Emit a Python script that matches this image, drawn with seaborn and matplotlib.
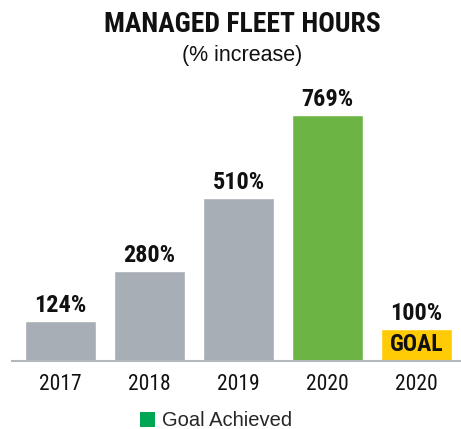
import pandas as pd
import matplotlib
matplotlib.use("Agg")
import matplotlib.pyplot as plt
from matplotlib.patches import Patch
import seaborn as sns

# chart data
keys = ["2017", "2018", "2019", "2020", "2020 goal"]
tick_labels = ["2017", "2018", "2019", "2020", "2020"]
values = [124, 280, 510, 769, 100]
value_labels = ["124%", "280%", "510%", "769%", "100%"]
bar_colors = ["#a8aeb5", "#a8aeb5", "#a8aeb5", "#6cb545", "#ffcb05"]

df = pd.DataFrame({"key": keys, "value": values})

sns.set_style("white")
narrow = ["Roboto Condensed", "DejaVu Sans"]
plt.rcParams["font.family"] = ["Liberation Sans", "DejaVu Sans"]

fig = plt.figure(figsize=(4.61, 4.29), dpi=100)
ax = fig.add_axes([12 / 461, 68 / 429, 449 / 461, 261 / 429])

sns.barplot(data=df, x="key", y="value", hue="key", palette=bar_colors,
            legend=False, width=0.8, saturation=1, ax=ax)

ax.set_xlim(-0.545, 4.5)
ax.set_ylim(0, 815)
ax.set_xlabel("")
ax.set_ylabel("")
ax.set_yticks([])
ax.set_xticks(range(len(keys)))
ax.set_xticklabels(tick_labels, family=narrow, fontsize=15.5, color="#111111")
ax.tick_params(axis="x", length=0, pad=9)
for side in ["top", "right", "left"]:
    ax.spines[side].set_visible(False)
ax.spines["bottom"].set_color("#b3b8bd")
ax.spines["bottom"].set_linewidth(1.5)

# value labels above the bars
for i, (v, lab) in enumerate(zip(values, value_labels)):
    ax.annotate(lab, (i, v), xytext=(0, 3), textcoords="offset points",
                ha="center", va="bottom", family=narrow, fontsize=17.5,
                fontweight="bold", color="#111111")

# goal text inside the yellow bar
ax.text(4, values[4] / 2, "GOAL", ha="center", va="center", family=narrow,
        fontsize=17, fontweight="bold", color="#111111")

fig.text(242 / 461, 1 - 25 / 429, "MANAGED FLEET HOURS", ha="center",
         va="center", family=narrow, fontsize=19.8, fontweight="bold",
         color="#111111")
fig.text(242 / 461, 1 - 55 / 429, "(% increase)", ha="center", va="center",
         fontsize=15.5, color="#111111")

handle = Patch(facecolor="#00a651", edgecolor="none")
fig.legend([handle], ["Goal Achieved"], loc="center",
           bbox_to_anchor=(216 / 461, 1 - 421 / 429), frameon=False,
           handlelength=0.75, handleheight=0.75, handletextpad=0.35,
           fontsize=14.5)

fig.savefig("out.png", dpi=100)
